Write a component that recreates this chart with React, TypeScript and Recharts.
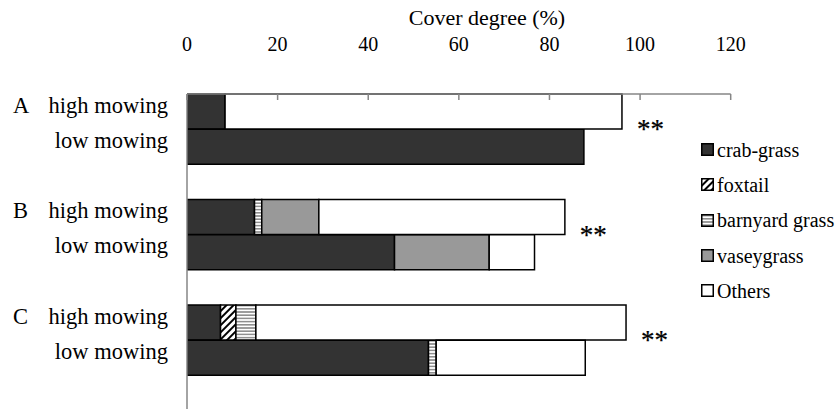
import React from 'react';
import { BarChart, Bar, XAxis, YAxis, Legend, LabelList } from 'recharts';

const FONT = "'Liberation Serif', 'Times New Roman', serif";

const groups = ['A', 'B', 'C'];
const treatments = ['high mowing', 'low mowing'];
const seriesNames = ['crab-grass', 'foxtail', 'barnyard grass', 'vaseygrass', 'Others'];
// order: A high, A low, B high, B low, C high, C low
const crabGrass = [8.4, 87.6, 14.9, 45.8, 7.4, 53.3];
const foxtail = [0, 0, 0, 0, 3.4, 0];
const barnyardGrass = [0, 0, 1.6, 0, 4.4, 1.7];
const vaseyGrass = [0, 0, 12.6, 20.9, 0, 0];
const others = [87.6, 0, 54.3, 10.0, 81.7, 32.9];
const significance = ['**', '**', '**'];
const xTicks = [0, 20, 40, 60, 80, 100, 120];
const axisTitle = 'Cover degree (%)';

const seriesKeys = ['crab', 'foxtail', 'barnyard', 'vasey', 'others'];
const seriesValues = [crabGrass, foxtail, barnyardGrass, vaseyGrass, others];
const fills = ['#333333', 'url(#foxtailPat)', 'url(#barnyardPat)', '#999999', '#ffffff'];

type Row = { key: string; group?: string; treatment?: string; sig?: string; [k: string]: any };
const rows: Row[] = [];
groups.forEach((g, gi) => {
  treatments.forEach((t, ti) => {
    const i = gi * 2 + ti;
    const r: Row = { key: `${g}-${ti}`, group: ti === 0 ? g : '', treatment: t };
    if (ti === 0) r.sig = significance[gi];
    seriesKeys.forEach((k, si) => {
      const v = seriesValues[si][i];
      r[k] = v > 0 ? v : null;
    });
    rows.push(r);
  });
  rows.push({ key: `${g}-gap` });
});

const AXIS_COLOR = '#868686';

const XTick = (props: any) => {
  const { x, y, payload } = props;
  return (
    <g>
      <text x={x} y={y - 43} textAnchor="middle" fontFamily={FONT} fontSize={20} fill="#000">
        {payload.value}
      </text>
      <line x1={x} x2={x} y1={y} y2={y + 6} stroke={AXIS_COLOR} strokeWidth={1.5} />
    </g>
  );
};

const YTick = (props: any) => {
  const { x, y, payload } = props;
  const row = rows.find((r) => r.key === payload.value);
  if (!row || !row.treatment) return null;
  return (
    <g fontFamily={FONT} fontSize={22.5} fill="#000">
      {row.group ? (
        <text x={x - 174} y={y + 1} textAnchor="start" fill="#000">
          {row.group}
        </text>
      ) : null}
      <text x={x - 19} y={y + 1} textAnchor="end" fill="#000">
        {row.treatment}
      </text>
    </g>
  );
};

const SigLabel = (props: any) => {
  const { x, y, width, height, value } = props;
  if (!value) return null;
  return (
    <text
      x={x + width + 15}
      y={y + height + 9}
      fontFamily={FONT}
      fontSize={27}
      fill="#000"
      stroke="#000"
      strokeWidth={0.25}
    >
      {value}
    </text>
  );
};

const LegendContent = () => (
  <div style={{ fontFamily: FONT, fontSize: 20, color: '#000', lineHeight: 1 }}>
    {seriesNames.map((name, i) => (
      <div key={name} style={{ display: 'flex', alignItems: 'center', height: 35.3, whiteSpace: 'nowrap' }}>
        <svg width={13} height={13} style={{ marginRight: 3, display: 'block' }}>
          <rect x={0.75} y={0.75} width={11.5} height={11.5} fill={fills[i]} stroke="#000" strokeWidth={1.5} />
        </svg>
        <span>{name}</span>
      </div>
    ))}
  </div>
);

export default function App() {
  return (
    <div style={{ position: 'absolute', left: 0, top: 0, width: 837, height: 409, overflow: 'hidden', background: '#fff' }}>
      <BarChart
        width={837}
        height={411}
        data={rows}
        layout="vertical"
        margin={{ top: 0, right: 106.3, bottom: 0.5, left: 0 }}
        barCategoryGap={0}
        barGap={0}
      >
        <defs>
          <pattern id="foxtailPat" width={5} height={5} patternUnits="userSpaceOnUse" patternTransform="rotate(45)">
            <rect width={5} height={5} fill="#fff" />
            <line x1={1} y1={0} x2={1} y2={5} stroke="#000" strokeWidth={2} />
          </pattern>
          <pattern id="barnyardPat" width={4} height={3.2} patternUnits="userSpaceOnUse">
            <rect width={4} height={3.2} fill="#fff" />
            <line x1={0} y1={1.6} x2={4} y2={1.6} stroke="#7f7f7f" strokeWidth={1.4} />
          </pattern>
        </defs>
        <text x={487} y={25} textAnchor="middle" fontFamily={FONT} fontSize={22} fill="#000">
          {axisTitle}
        </text>
        <XAxis
          type="number"
          orientation="top"
          domain={[0, 120]}
          ticks={xTicks}
          interval={0}
          height={94}
          tickSize={0}
          tickMargin={0}
          tick={<XTick />}
          tickLine={false}
          axisLine={{ stroke: AXIS_COLOR, strokeWidth: 1.5 }}
          allowDataOverflow
        />
        <YAxis
          type="category"
          dataKey="key"
          width={187}
          interval={0}
          tickSize={0}
          tickMargin={0}
          tickLine={false}
          tick={<YTick />}
          axisLine={{ stroke: AXIS_COLOR, strokeWidth: 1.5 }}
        />
        {seriesKeys.map((k, i) => (
          <Bar
            key={k}
            dataKey={k}
            name={seriesNames[i]}
            stackId="s"
            fill={fills[i]}
            stroke="#000"
            strokeWidth={1.5}
            isAnimationActive={false}
          >
            {k === 'others' ? <LabelList dataKey="sig" content={<SigLabel />} /> : null}
          </Bar>
        ))}
        <Legend
          layout="vertical"
          align="center"
          verticalAlign="middle"
          wrapperStyle={{ left: 701, top: 132, width: 'auto' }}
          content={<LegendContent />}
        />
      </BarChart>
    </div>
  );
}
